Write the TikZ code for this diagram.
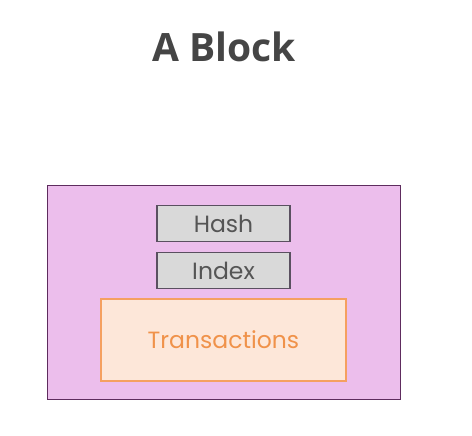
\documentclass[tikz,border=0pt]{standalone}
\usepackage{fontspec}
\setmainfont{Poppins}
\newfontfamily\titlefont{Open Sans}
\usetikzlibrary{positioning}
\definecolor{blockfill}{HTML}{ECBEEC}
\definecolor{blockline}{HTML}{5E2C5E}
\definecolor{fieldfill}{HTML}{D9D9D9}
\definecolor{fieldline}{HTML}{5A5060}
\definecolor{fieldtext}{HTML}{555555}
\definecolor{txfill}{HTML}{FDE7D9}
\definecolor{txline}{HTML}{F5A060}
\definecolor{txtext}{HTML}{F0924A}
\definecolor{titletext}{HTML}{454545}
\begin{document}
\begin{tikzpicture}[
  x=1pt, y=-1pt,
  node distance=10pt,
  block/.style={draw=blockline, fill=blockfill, line width=1pt, minimum width=353pt, minimum height=214pt, inner sep=0pt},
  field/.style={draw=fieldline, fill=fieldfill, line width=1.2pt, minimum width=133pt, minimum height=36pt, inner sep=0pt,
    text=fieldtext, font=\fontsize{23.5}{27}\selectfont},
  txbox/.style={draw=txline, fill=txfill, line width=1.2pt, minimum width=245pt, minimum height=82pt, inner sep=0pt,
    text=txtext, font=\fontsize{23.5}{27}\selectfont}
]
\useasboundingbox (0,0) rectangle (472,436);
\node[text=titletext, font=\titlefont\bfseries\fontsize{39}{44}\selectfont] (title) at (224,47) {A Block};
\node[block] (block) at (223.5,292) {};
\node[field] (hash) at (223.5,223.5) {Hash};
\node[field, below=of hash] (index) {Index};
\node[txbox, below=9pt of index] (tx) {Transactions};
\end{tikzpicture}
\end{document}
